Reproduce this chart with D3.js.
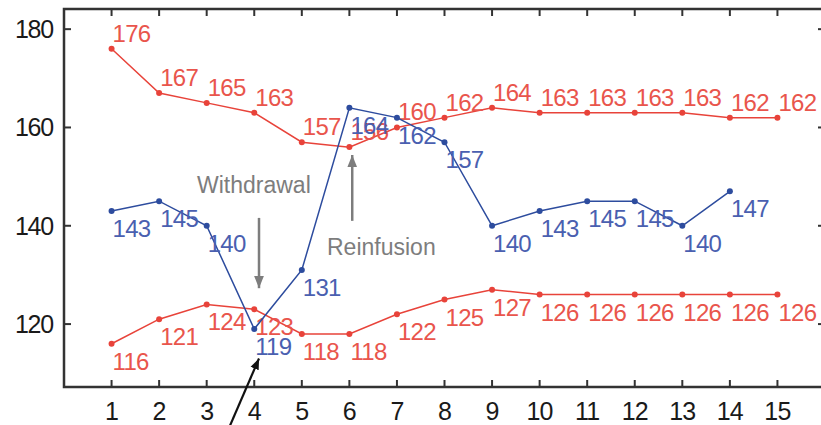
<!DOCTYPE html>
<html><head><meta charset="utf-8">
<script src="https://cdn.jsdelivr.net/npm/d3@7"></script>
<style>body{margin:0;background:#fff}svg{display:block}</style>
</head><body>
<svg id="c" width="821" height="425"></svg>
<script>
const xTicks = [1,2,3,4,5,6,7,8,9,10,11,12,13,14,15];
const yTicks = [120,140,160,180];
const redTop = [176,167,165,163,157,156,160,162,164,163,163,163,163,162,162];
const blue = [143,145,140,119,131,164,162,157,140,143,145,145,140,147];
const redBottom = [116,121,124,123,118,118,122,125,127,126,126,126,126,126,126];
const annotations = ["Withdrawal","Reinfusion"];

const svg = d3.select("#c");
const L=64, R=825, T=9, B=387;
const x = d3.scaleLinear().domain([0,16]).range([L,R]);
const y = d3.scaleLinear().domain([107.2,184.1]).range([B,T]);

const RED="#e8433a", REDT="#e9554c", BLUE="#2d4c9e", BLUET="#4a5fb0", AX="#333";

svg.append("rect").attr("x",L).attr("y",T).attr("width",R-L).attr("height",B-T)
  .attr("fill","none").attr("stroke",AX).attr("stroke-width",2.5);

const tl=7;
xTicks.forEach(t=>{
  svg.append("line").attr("x1",x(t)).attr("x2",x(t)).attr("y1",B).attr("y2",B-tl).attr("stroke",AX).attr("stroke-width",2);
  svg.append("line").attr("x1",x(t)).attr("x2",x(t)).attr("y1",T).attr("y2",T+tl).attr("stroke",AX).attr("stroke-width",2);
});
yTicks.forEach(t=>{
  svg.append("line").attr("x1",L).attr("x2",L+tl).attr("y1",y(t)).attr("y2",y(t)).attr("stroke",AX).attr("stroke-width",2);
  svg.append("line").attr("x1",R).attr("x2",R-tl).attr("y1",y(t)).attr("y2",y(t)).attr("stroke",AX).attr("stroke-width",2);
});
const tf = "Liberation Sans, Arial, sans-serif";
svg.selectAll(".xt").data(xTicks).join("text").attr("x",d=>x(d)).attr("y",B+33)
  .attr("text-anchor","middle").attr("font-family",tf).attr("font-size",25).attr("fill","#1a1a1a")
  .attr("letter-spacing",-0.8).text(d=>d);
svg.selectAll(".yt").data(yTicks).join("text").attr("x",L-11).attr("y",d=>y(d)+9)
  .attr("text-anchor","end").attr("font-family",tf).attr("font-size",25).attr("fill","#1a1a1a")
  .attr("letter-spacing",-1.2).text(d=>d);

const line = d3.line().x((d,i)=>x(i+1)).y(d=>y(d));

function series(vals, color, tcolor, above){
  svg.append("path").datum(vals).attr("d",line).attr("fill","none").attr("stroke",color).attr("stroke-width",1.5);
  svg.append("g").selectAll("circle").data(vals).join("circle")
    .attr("cx",(d,i)=>x(i+1)).attr("cy",d=>y(d)).attr("r",3).attr("fill",color);
  svg.append("g").selectAll("text").data(vals).join("text")
    .attr("x",(d,i)=>x(i+1)+1).attr("y",d=>y(d)+(above?-7:26))
    .attr("font-family",tf).attr("font-size",24).attr("letter-spacing",-0.7)
    .attr("fill",tcolor).text(d=>d);
}
series(redTop, RED, REDT, true);
series(redBottom, RED, REDT, false);
series(blue, BLUE, BLUET, false);

const gray="#7d7d7d";
const defs = svg.append("defs");
function marker(id,color){
  defs.append("marker").attr("id",id).attr("viewBox","0 0 10 10").attr("refX",10).attr("refY",5)
    .attr("markerWidth",5).attr("markerHeight",5).attr("markerUnits","strokeWidth").attr("orient","auto")
    .append("path").attr("d","M0,1L10,5L0,9z").attr("fill",color);
}
marker("ag",gray); marker("ab","#111");

svg.append("text").attr("x",197).attr("y",193).attr("font-family",tf).attr("font-size",23)
  .attr("fill",gray).text(annotations[0]);
svg.append("line").attr("x1",x(4.1)).attr("x2",x(4.1)).attr("y1",y(141.6)).attr("y2",y(127.3))
  .attr("stroke",gray).attr("stroke-width",2.5).attr("marker-end","url(#ag)");

svg.append("text").attr("x",327).attr("y",255).attr("font-family",tf).attr("font-size",23)
  .attr("fill",gray).text(annotations[1]);
svg.append("line").attr("x1",x(6.06)).attr("x2",x(6.06)).attr("y1",y(141)).attr("y2",y(154.4))
  .attr("stroke",gray).attr("stroke-width",2.5).attr("marker-end","url(#ag)");

svg.append("line").attr("x1",x(3.43)).attr("x2",x(4.1)).attr("y1",y(98)).attr("y2",y(113))
  .attr("stroke","#111").attr("stroke-width",2.2).attr("marker-end","url(#ab)");
</script>
</body></html>
